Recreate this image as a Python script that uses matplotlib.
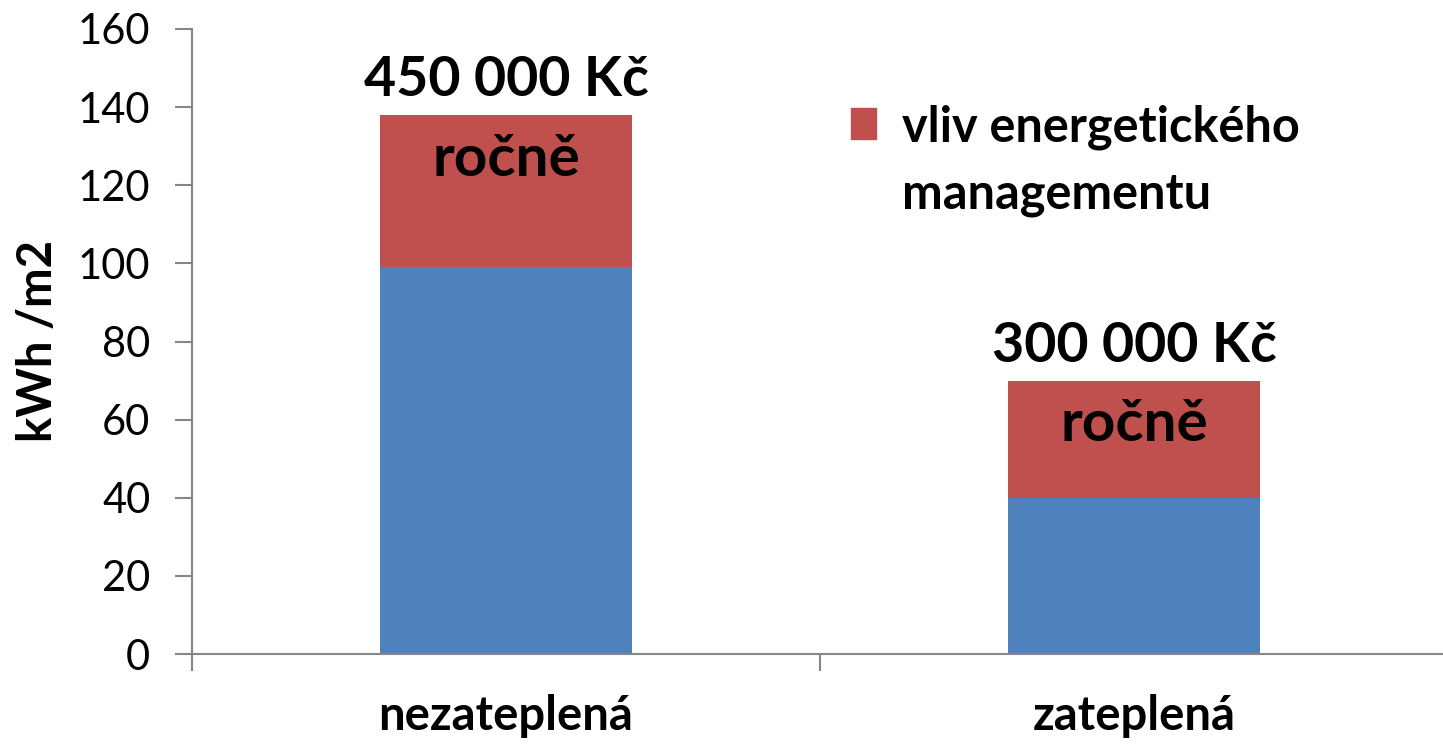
import matplotlib.pyplot as plt
from matplotlib.patches import Patch

kategorie = ["nezateplená", "zateplená"]
zaklad = [99, 40]
management = [39, 30]
cena = ["450 000 Kč", "300 000 Kč"]
legenda = ["vliv energetického", "managementu"]

plt.rcParams['font.family'] = ['Lato', 'DejaVu Sans']

fig = plt.figure(figsize=(14.43, 7.46), dpi=100)
# osa sahá až k pravému okraji obrázku
ax = fig.add_axes([192 / 1443, 92 / 746, 1256 / 1443, 625 / 746])

x = list(range(len(kategorie)))
ax.bar(x, zaklad, width=0.4, color='#4F81BD')
ax.bar(x, management, width=0.4, bottom=zaklad, color='#C0504D')

for i in x:
    vrch = zaklad[i] + management[i]
    ax.text(i, vrch + 2.5, cena[i], ha='center', va='bottom',
            fontsize=40, fontweight='bold')
    ax.text(i, vrch - 4.5, "ročně", ha='center', va='top',
            fontsize=42, fontweight='bold')

ax.set_xlim(-0.5, 1.5)
ax.set_ylim(0, 160)
ax.set_yticks(range(0, 161, 20))
ax.set_xticks([-0.5, 0.5, 1.5])
ax.set_xticklabels([])
ax.set_xticks(x, minor=True)
ax.set_xticklabels(kategorie, minor=True, fontsize=34, fontweight='bold')
ax.tick_params(axis='x', which='minor', length=0, pad=29)
ax.tick_params(axis='x', which='major', length=12, color='#868686', width=1.5)
ax.tick_params(axis='y', labelsize=30, length=12, color='#868686', width=1.5, pad=18)

for s in ['top', 'right']:
    ax.spines[s].set_visible(False)
for s in ['left', 'bottom']:
    ax.spines[s].set_color('#868686')
    ax.spines[s].set_linewidth(1.5)

ax.set_ylabel("kWh /m2", fontsize=34, fontweight='bold')
ax.yaxis.set_label_coords(-0.105, 0.5)

leg = ax.legend(handles=[Patch(color='#C0504D')], labels=[legenda[0]],
                loc='upper left', bbox_to_anchor=(0.525, 0.88),
                frameon=False, prop={'weight': 'bold', 'size': 35},
                handlelength=0.5, handleheight=0.6, handletextpad=0.55,
                borderaxespad=0, borderpad=0)

fig.canvas.draw()
bb = leg.get_texts()[0].get_window_extent()
x0 = bb.x0 / fig.bbox.width
y0 = bb.y0 / fig.bbox.height
fig.text(x0, y0 - 0.03, legenda[1], ha='left', va='top',
         fontsize=35, fontweight='bold')

fig.savefig("out.png", dpi=100)
